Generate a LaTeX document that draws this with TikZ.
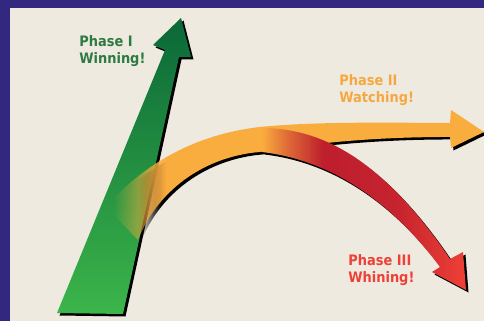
\documentclass[tikz,border=0pt]{standalone}
\usepackage{fontspec}
\setmainfont{DejaVu Sans}[FakeStretch=0.9]
\usepackage{xcolor}
\usetikzlibrary{fadings}
\definecolor{frame}{RGB}{50,40,128}
\definecolor{paper}{RGB}{239,234,223}
\definecolor{winlight}{RGB}{60,181,74}
\definecolor{windark}{RGB}{10,104,56}
\definecolor{watch}{RGB}{250,173,63}
\definecolor{whine}{RGB}{190,30,45}
\definecolor{whinelight}{RGB}{238,64,54}
\definecolor{wintext}{RGB}{45,122,66}
\definecolor{watchtext}{RGB}{246,168,64}

\pgfdeclarehorizontalshading{watchfadeshade}{100bp}{color(0bp)=(black); color(26bp)=(black); color(33bp)=(white); color(100bp)=(white)}
\pgfdeclarefading{watchfade}{\pgfuseshading{watchfadeshade}}
\pgfdeclarehorizontalshading{dropfadeshade}{100bp}{color(0bp)=(black); color(29bp)=(black); color(32bp)=(white); color(100bp)=(white)}
\pgfdeclarefading{dropfade}{\pgfuseshading{dropfadeshade}}
\pgfdeclarehorizontalshading{whineblend}{100bp}{color(0bp)=(watch); color(25bp)=(watch); color(31bp)=(whine!45!watch); color(40bp)=(whine); color(58bp)=(whine!85!whinelight); color(75bp)=(whinelight); color(100bp)=(whinelight)}

\newcommand{\winpath}{(57,313) -- (165,50) -- (153,45) -- (181,18) -- (191,57) -- (179,57) -- (123,314) -- cycle}
\newcommand{\watchpath}{(106,207) .. controls (140,168) and (190,135) .. (260,127) .. controls (320,121) and (400,123) .. (450,123) -- (451,110) -- (484,132) -- (451,148) -- (450,137) .. controls (380,137) and (320,142) .. (260,152) .. controls (210,156) and (160,185) .. (138,240) -- cycle}
\newcommand{\whinepath}{(262,128) .. controls (330,128) and (390,170) .. (450,259) -- (463,252) -- (466,290) -- (432,272) -- (440,267) .. controls (390,200) and (330,160) .. (262,152) -- cycle}

\begin{document}
\begin{tikzpicture}[x=0.02cm, y=-0.02cm, every node/.style={font=\bfseries\fontsize{8.2}{9.6}\selectfont, align=left, anchor=west, inner sep=0pt}]
  \useasboundingbox (0,0) rectangle (484,321);
  \fill[frame] (0,0) rectangle (484,321);
  \fill[paper] (10,8) rectangle (484,321);

  \fill[black, xshift=0.05cm, yshift=-0.05cm] \winpath;
  \shade[bottom color=winlight, top color=windark] \winpath;
  \fill[black, path fading=dropfade, xshift=0.05cm, yshift=-0.05cm] \watchpath;
  \fill[watch, path fading=watchfade] \watchpath;
  \fill[black, xshift=0.05cm, yshift=-0.05cm] \whinepath;
  \shade[shading=whineblend] \whinepath;

  \node[text=wintext] (phaseone) at (79,51) {Phase I\\Winning!};
  \node[text=watchtext] (phasetwo) at (339,90) {Phase II\\Watching!};
  \node[text=whinelight] (phasethree) at (348,270) {Phase III\\Whining!};
\end{tikzpicture}
\end{document}
